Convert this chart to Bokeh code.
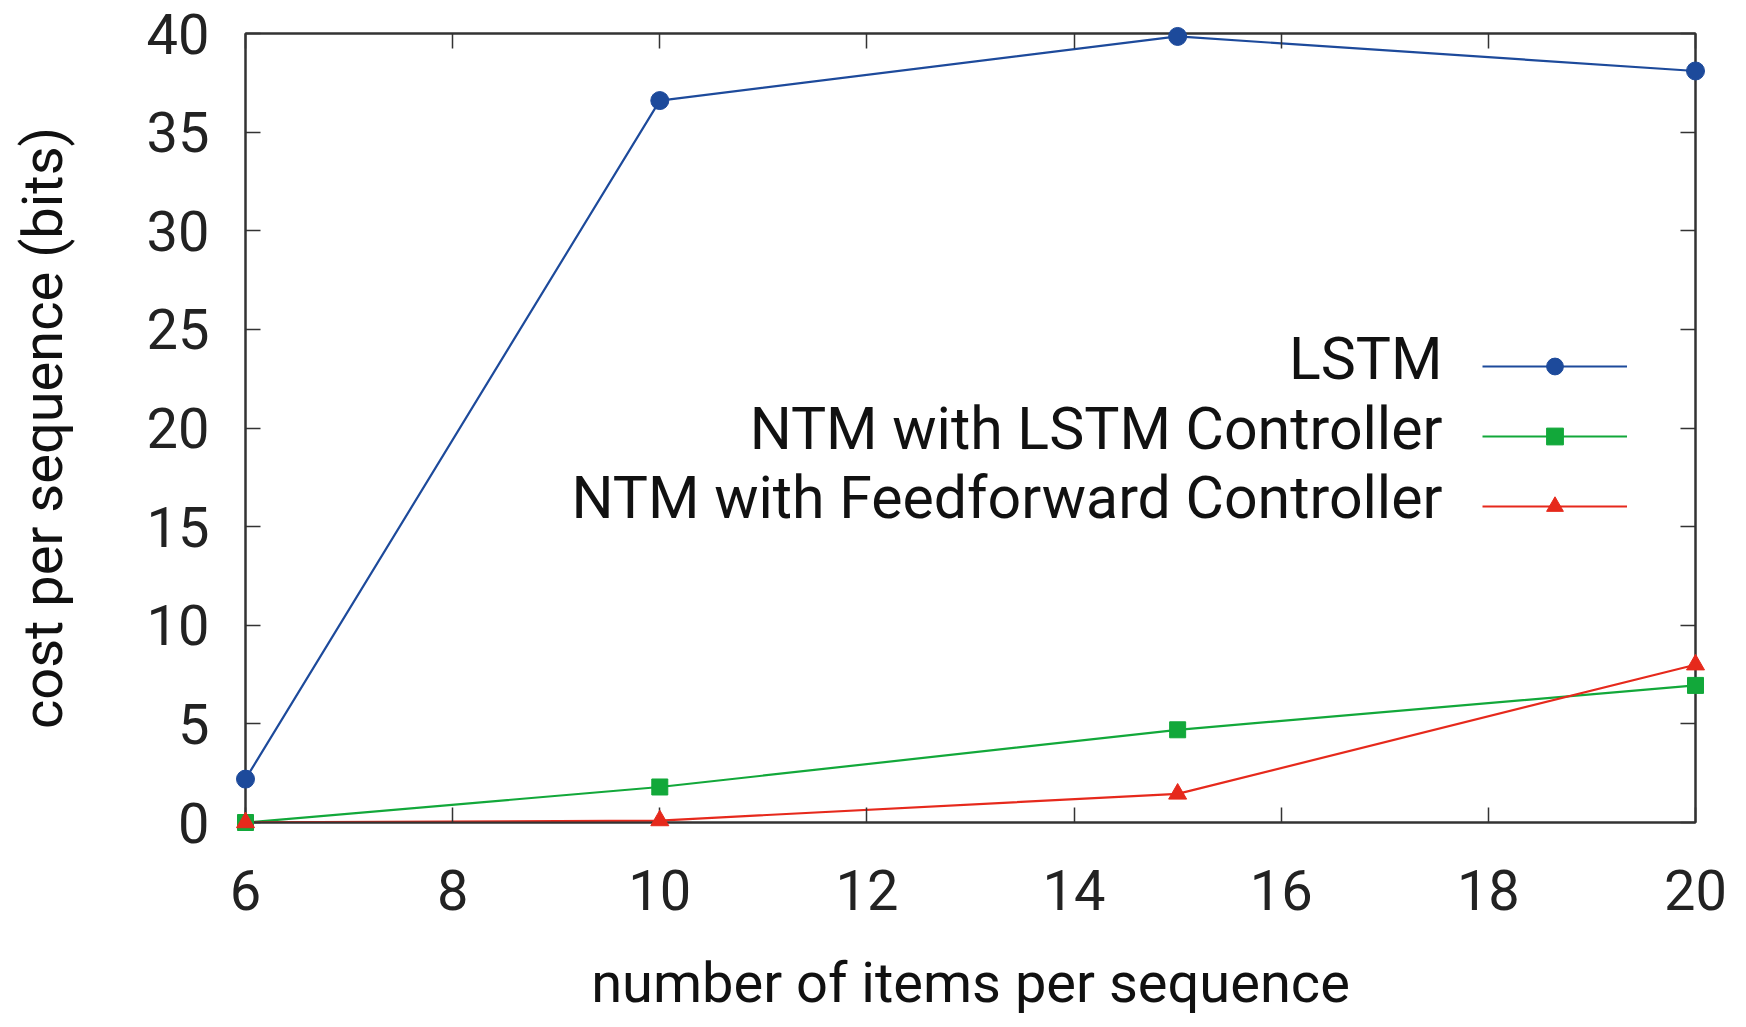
from bokeh.plotting import figure
from bokeh.models import (LinearAxis, FixedTicker, Range1d, Legend, LegendItem,
                          Label, CustomJSTickFormatter)
from bokeh.core.properties import value
from bokeh.embed import file_html
from bokeh.resources import INLINE

# ---- data ----
items = [6, 10, 15, 20]
lstm = [2.2, 36.6, 39.85, 38.1]
ntm_lstm = [0.0, 1.8, 4.7, 6.95]
ntm_ff = [0.0, 0.1, 1.45, 8.0]
series_names = ["LSTM", "NTM with LSTM Controller", "NTM with Feedforward Controller"]
x_ticks = [6, 8, 10, 12, 14, 16, 18, 20]
y_ticks = [0, 5, 10, 15, 20, 25, 30, 35, 40]
x_title = "number of items per sequence"
y_title = "cost per sequence (bits)"

FONT = "Roboto"
AX = "#333333"
BLUE = "#1d4a9b"
GREEN = "#12a83a"
RED = "#e6291c"

p = figure(width=1730, height=1019, output_backend="svg", toolbar_location=None,
           x_range=Range1d(6, 20), y_range=Range1d(0, 40),
           min_border_left=245, min_border_right=35, min_border_top=33,
           min_border_bottom=197)
p.xgrid.visible = False
p.ygrid.visible = False
p.outline_line_color = AX
p.outline_line_width = 2
p.background_fill_color = "white"
p.border_fill_color = "white"

def style_axis(ax, ticks, show_labels):
    ax.ticker = FixedTicker(ticks=ticks)
    ax.major_tick_in = 15
    ax.major_tick_out = 0
    ax.minor_tick_line_color = None
    ax.major_tick_line_color = AX
    ax.major_tick_line_width = 1.5
    ax.axis_line_color = AX
    ax.axis_line_width = 2
    ax.major_label_text_font = FONT
    ax.major_label_text_font_size = "56px"
    ax.major_label_text_color = "#222222"
    ax.axis_label_text_font = FONT
    ax.axis_label_text_font_size = "56px"
    ax.axis_label_text_font_style = "normal"
    ax.axis_label_text_color = "#111111"
    if not show_labels:
        ax.formatter = CustomJSTickFormatter(code="return ''")
        ax.major_label_standoff = 0

style_axis(p.xaxis[0], x_ticks, True)
style_axis(p.yaxis[0], y_ticks, True)
p.xaxis[0].axis_label = x_title
p.yaxis[0].axis_label = y_title
p.xaxis[0].major_label_standoff = 47
p.xaxis[0].axis_label_standoff = 37
p.yaxis[0].major_label_standoff = 36
p.yaxis[0].axis_label_standoff = 68

top = LinearAxis()
style_axis(top, x_ticks, False)
p.add_layout(top, "above")
right = LinearAxis()
style_axis(right, y_ticks, False)
p.add_layout(right, "right")

r1 = p.line(items, lstm, line_color=BLUE, line_width=2.2)
m1 = p.scatter(items, lstm, marker="circle", size=18, fill_color=BLUE, line_color=BLUE,
               level="overlay")
r2 = p.line(items, ntm_lstm, line_color=GREEN, line_width=2.2)
m2 = p.scatter(items, ntm_lstm, marker="square", size=16, fill_color=GREEN, line_color=GREEN,
               level="overlay")
r3 = p.line(items, ntm_ff, line_color=RED, line_width=2.2)
m3 = p.scatter(items, ntm_ff, marker="triangle", size=18, fill_color=RED, line_color=RED,
               level="overlay")

# legend samples (glyph only); text drawn by right-aligned labels to its left
legend = Legend(items=[LegendItem(label=value(""), renderers=[r1, m1]),
                       LegendItem(label=value(""), renderers=[r2, m2]),
                       LegendItem(label=value(""), renderers=[r3, m3])],
                location=(1237, 295), glyph_width=145, glyph_height=42,
                label_width=0, label_standoff=0, label_text_font_size="1px",
                spacing=28, padding=0, margin=0, border_line_color=None,
                background_fill_alpha=0)
p.add_layout(legend, "center")

row_y = [464, 394, 325]
for name, yy in zip(series_names, row_y):
    p.add_layout(Label(x=1197, y=yy, x_units="screen", y_units="screen", text=name,
                       text_align="right", text_baseline="middle",
                       text_font=FONT, text_font_size="59px", text_color="#111111"))

open("out.html", "w").write(file_html(p, INLINE))
